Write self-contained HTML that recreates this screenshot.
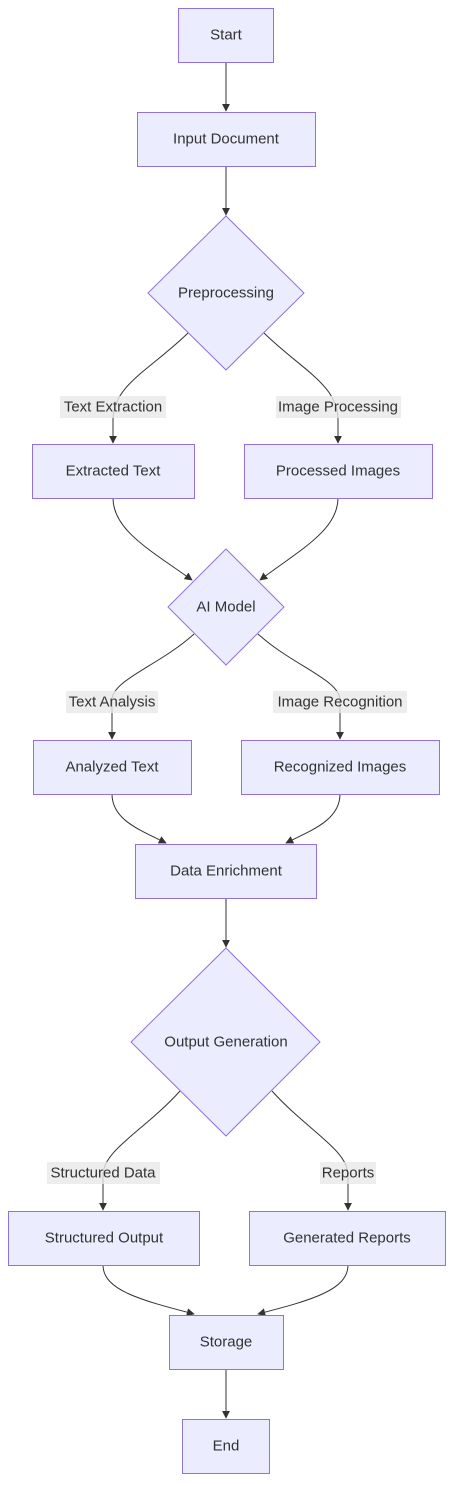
<!DOCTYPE html>
<html><head><meta charset="utf-8"><style>
html,body{margin:0;padding:0;background:#fff;}
svg text{font-family:"Liberation Sans","DejaVu Sans",sans-serif;font-size:15px;fill:#333;}
</style></head><body>
<svg width="453" height="1481" viewBox="0 0 453 1481" xmlns="http://www.w3.org/2000/svg">
<defs><marker id="a" viewBox="0 0 10 10" refX="9" refY="5" markerWidth="8" markerHeight="8" orient="auto"><path d="M0,0L10,5L0,10z" fill="#333"/></marker></defs>
<g fill="none" stroke="#333" stroke-width="1" marker-end="url(#a)">
<path d="M226,62V111"/>
<path d="M226,166V215"/>
<path d="M188,333C150,370 113,385 113,420V443"/>
<path d="M264,333C302,370 338,385 338,420V443"/>
<path d="M113,498C113,530 150,550 192,580"/>
<path d="M338,498C338,530 300,550 260,580"/>
<path d="M194,634C160,665 112,680 112,700V739"/>
<path d="M258,634C292,665 340,680 340,700V739"/>
<path d="M112,794C112,820 140,830 166,843"/>
<path d="M340,794C340,820 312,830 286,843"/>
<path d="M226,898V947"/>
<path d="M180,1091C145,1130 103,1150 103,1175V1210"/>
<path d="M272,1091C307,1130 348,1150 348,1175V1210"/>
<path d="M103,1265C103,1290 140,1300 194,1314"/>
<path d="M348,1265C348,1290 312,1300 258,1314"/>
<path d="M226,1369V1418"/>
</g>
<g fill="rgba(232,232,232,0.8)">
<rect x="60" y="396" width="106" height="22"/><rect x="276" y="396" width="125" height="22"/>
<rect x="66" y="691" width="92" height="22"/><rect x="273" y="691" width="134" height="22"/>
<rect x="47" y="1162" width="113" height="22"/><rect x="320" y="1162" width="56" height="22"/>
</g>
<g fill="#ECECFF" stroke="#9370DB" stroke-width="1">
<rect x="178.5" y="8.5" width="95" height="54"/>
<rect x="137.5" y="112.5" width="178" height="54"/>
<polygon points="226,216 304,293 226,370 148,293"/>
<rect x="32.5" y="444.5" width="162" height="54"/>
<rect x="244.5" y="444.5" width="188" height="54"/>
<polygon points="226,549 284,607 226,665 168,607"/>
<rect x="33.5" y="740.5" width="158" height="54"/>
<rect x="241.5" y="740.5" width="198" height="54"/>
<rect x="135.5" y="844.5" width="181" height="54"/>
<polygon points="226,948 320,1042 226,1136 131,1042"/>
<rect x="8.5" y="1211.5" width="191" height="54"/>
<rect x="249.5" y="1211.5" width="196" height="54"/>
<rect x="169.5" y="1315.5" width="114" height="54"/>
<rect x="182.5" y="1419.5" width="87" height="54"/>
</g>
<g text-anchor="middle" dominant-baseline="central">
<text x="226" y="35">Start</text>
<text x="226" y="139">Input Document</text>
<text x="226" y="293">Preprocessing</text>
<text x="113" y="407">Text Extraction</text>
<text x="338" y="407">Image Processing</text>
<text x="113" y="471">Extracted Text</text>
<text x="338" y="471">Processed Images</text>
<text x="226" y="607">AI Model</text>
<text x="112" y="702">Text Analysis</text>
<text x="340" y="702">Image Recognition</text>
<text x="112" y="767">Analyzed Text</text>
<text x="340" y="767">Recognized Images</text>
<text x="226" y="871">Data Enrichment</text>
<text x="226" y="1042">Output Generation</text>
<text x="103" y="1173">Structured Data</text>
<text x="348" y="1173">Reports</text>
<text x="104" y="1238">Structured Output</text>
<text x="347" y="1238">Generated Reports</text>
<text x="226" y="1342">Storage</text>
<text x="226" y="1446">End</text>
</g>
</svg>
</body></html>
